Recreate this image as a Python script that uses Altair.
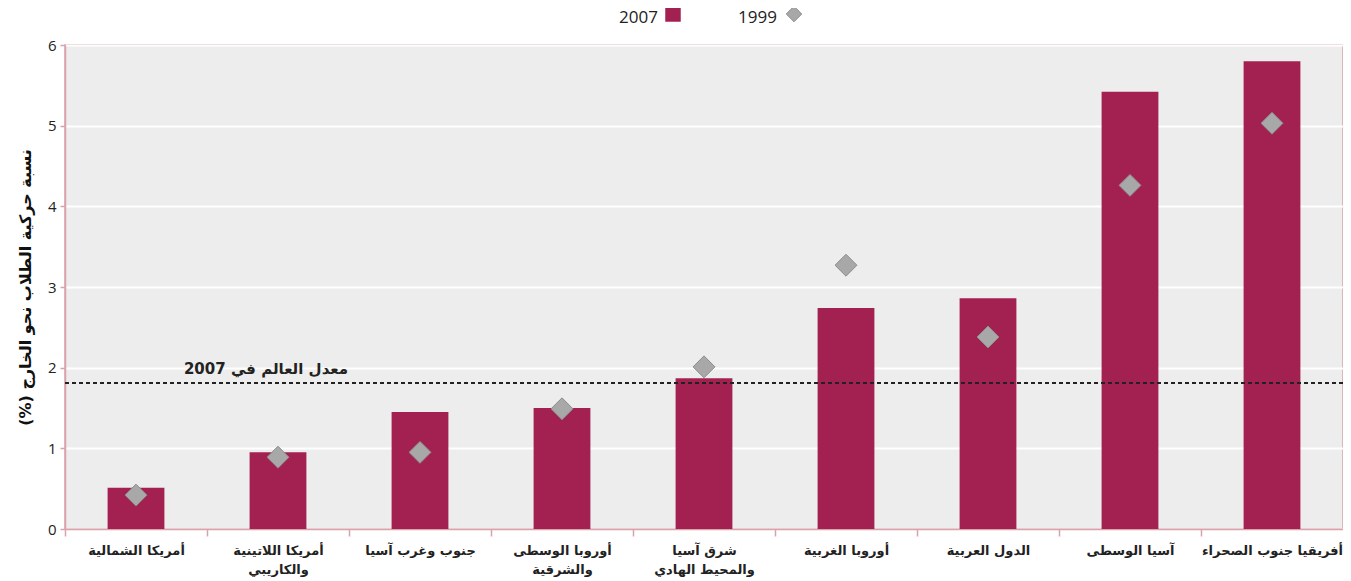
import altair as alt
import pandas as pd

regions = [
    "أمريكا الشمالية",
    "أمريكا اللاتينية\nوالكاريبي",
    "جنوب وغرب آسيا",
    "أوروبا الوسطى\nوالشرقية",
    "شرق آسيا\nوالمحيط الهادي",
    "أوروبا الغربية",
    "الدول العربية",
    "آسيا الوسطى",
    "أفريقيا جنوب الصحراء",
]
v2007 = [0.51, 0.95, 1.45, 1.50, 1.87, 2.74, 2.86, 5.42, 5.80]
v1999 = [0.42, 0.89, 0.95, 1.49, 2.01, 3.27, 2.38, 4.26, 5.03]
world_avg = [1.81]
avg_label = ["معدل العالم في 2007"]
legend_labels = ["2007", "1999"]
y_title = "نسبة حركية الطلاب نحو الخارج (%)" + "\u200f"

df = pd.DataFrame({"region": regions, "y2007": v2007, "y1999": v1999})
avg_df = pd.DataFrame({"avg": world_avg, "label": avg_label})

BAR = "#a32151"
PINK = "#d9a3ab"
W, H = 1278, 484
step = W / 9.0

xenc = alt.X(
    "region:N",
    sort=None,
    scale=alt.Scale(paddingInner=0.6, paddingOuter=0.3),
    axis=alt.Axis(
        title=None,
        labelAngle=0,
        labelExpr="split(datum.label, '\\n')",
        labelFont="DejaVu Sans",
        labelFontSize=13,
        labelFontWeight="bold",
        labelColor="#222222",
        labelPadding=8,
        labelLineHeight=19,
        tickOffset=-step / 2,
        labelOffset=step / 2,
        tickColor=PINK,
        tickSize=7,
        tickWidth=1.5,
        domainColor=PINK,
        domainWidth=1.5,
        labelBaseline="top",
    ),
)

yscale = alt.Scale(domain=[0, 6], nice=False)
yaxis = alt.Axis(
    title=y_title,
    titleFont="DejaVu Sans",
    titleFontSize=16,
    titleFontWeight="bold",
    titleColor="#111111",
    titlePadding=14,
    values=[0, 1, 2, 3, 4, 5, 6],
    format="d",
    labelFont="Open Sans",
    labelFontSize=15,
    labelColor="#222222",
    labelPadding=4,
    tickColor=PINK,
    tickSize=5,
    tickWidth=1.5,
    domainColor=PINK,
    domainWidth=1.5,
    grid=True,
    gridColor="#ffffff",
    gridWidth=2,
)

base = alt.Chart(df)

bars = base.mark_bar(color=BAR).encode(
    x=xenc,
    y=alt.Y("y2007:Q", scale=yscale, axis=yaxis),
)

rule = alt.Chart(avg_df).mark_rule(
    color="#222222", strokeDash=[4, 3], strokeWidth=2
).encode(y=alt.Y("avg:Q", scale=yscale))

avg_text = alt.Chart(avg_df).mark_text(
    font="DejaVu Sans", fontSize=15, fontWeight="bold", color="#222222",
    align="center", dy=-14,
).encode(
    x=alt.value(201),
    y=alt.Y("avg:Q", scale=yscale),
    text="label:N",
)

points = base.mark_point(
    shape="diamond", filled=True, size=480, color="#a8a8a8",
    stroke="#8c8c8c", strokeWidth=1, opacity=1,
).encode(
    x=alt.X("region:N", sort=None),
    y=alt.Y("y1999:Q", scale=yscale),
)

# manual legend (label left of symbol)
leg_t1 = alt.Chart(pd.DataFrame({"t": [legend_labels[0]]})).mark_text(
    font="Open Sans", fontSize=17, color="#222222", align="right", baseline="alphabetic"
).encode(x=alt.value(593), y=alt.value(-22), text="t:N")
leg_s1 = alt.Chart(pd.DataFrame({"t": [legend_labels[0]]})).mark_point(
    shape="square", filled=True, size=240, color=BAR, opacity=1
).encode(x=alt.value(608), y=alt.value(-31))
leg_t2 = alt.Chart(pd.DataFrame({"t": [legend_labels[1]]})).mark_text(
    font="Open Sans", fontSize=17, color="#222222", align="right", baseline="alphabetic"
).encode(x=alt.value(712), y=alt.value(-22), text="t:N")
leg_s2 = alt.Chart(pd.DataFrame({"t": [legend_labels[1]]})).mark_point(
    shape="diamond", filled=True, size=240, color="#a8a8a8",
    stroke="#8c8c8c", strokeWidth=1, opacity=1
).encode(x=alt.value(729), y=alt.value(-31))

chart = alt.layer(
    bars, rule, points, avg_text, leg_t1, leg_s1, leg_t2, leg_s2
).properties(
    width=W, height=H,
    autosize=alt.AutoSizeParams(type="none"),
    padding={"left": 57, "top": 37, "right": 0, "bottom": 52},
    background="#ffffff",
).configure_view(
    fill="#ededed", stroke=PINK, strokeWidth=1.5
)

chart.save("out.html", embed_options={"renderer": "svg", "actions": False})
